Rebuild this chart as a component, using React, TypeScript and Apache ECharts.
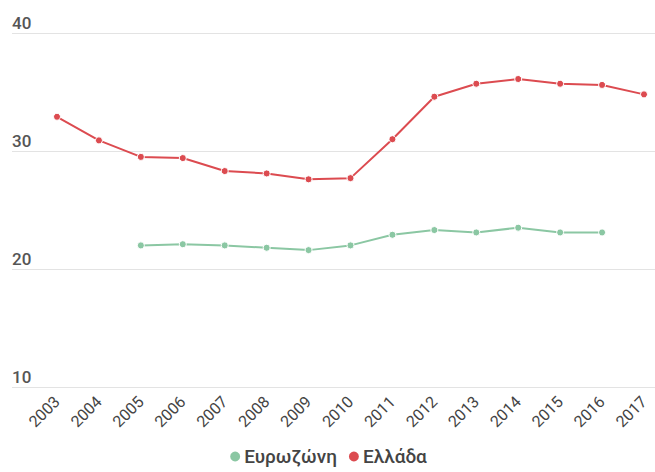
import React, { useEffect, useRef } from "react";
import * as echarts from "echarts";

const years = [
  "2003", "2004", "2005", "2006", "2007", "2008", "2009", "2010",
  "2011", "2012", "2013", "2014", "2015", "2016", "2017",
];

const eurozone: (number | null)[] = [
  null, null, 22.0, 22.1, 22.0, 21.8, 21.6, 22.0,
  22.9, 23.3, 23.1, 23.5, 23.1, 23.1, null,
];

const greece = [
  32.9, 30.9, 29.5, 29.4, 28.3, 28.1, 27.6, 27.7,
  31.0, 34.6, 35.7, 36.1, 35.7, 35.6, 34.8,
];

const yTicks = { min: 10, max: 40, interval: 10 };

const GREEN = "#8bc7a3";
const RED = "#dc4b50";

export default function App() {
  const ref = useRef<HTMLDivElement>(null);

  useEffect(() => {
    if (!ref.current) return;
    const chart = echarts.init(ref.current, null, { renderer: "svg" });
    const font = "Roboto, 'Noto Sans', sans-serif";
    chart.setOption({
      animation: false,
      textStyle: { fontFamily: font },
      legend: {
        bottom: 1,
        left: "center",
        icon: "circle",
        itemWidth: 12,
        itemHeight: 12,
        itemGap: 10,
        textStyle: { fontSize: 19, fontWeight: 500, color: "#444", fontFamily: font, padding: [0, 0, 0, -2] },
        data: ["Ευρωζώνη", "Ελλάδα"],
      },
      grid: [
        // wide grid carrying the horizontal guide lines and value labels
        { left: 12, right: 0, top: 33, bottom: 85, containLabel: false },
        // inner grid where the yearly points sit
        { left: 57, right: 11, top: 33, bottom: 85, containLabel: false },
      ],
      xAxis: [
        {
          gridIndex: 0,
          type: "category",
          data: years,
          show: false,
        },
        {
          gridIndex: 1,
          type: "category",
          data: years,
          boundaryGap: false,
          axisLine: { show: false },
          axisTick: { show: false },
          axisLabel: {
            rotate: 45,
            margin: 12,
            fontSize: 16,
            color: "#444",
            fontFamily: font,
          },
        },
      ],
      yAxis: [
        {
          gridIndex: 0,
          type: "value",
          ...yTicks,
          axisLine: { show: false },
          axisTick: { show: false },
          splitLine: { show: true, lineStyle: { color: "#e3e3e3", width: 1 } },
          axisLabel: {
            inside: true,
            margin: 0,
            align: "left",
            verticalAlign: "bottom",
            padding: [0, 0, 2, 0],
            fontSize: 17,
            fontWeight: 500,
            color: "#555",
            fontFamily: font,
          },
        },
        {
          gridIndex: 1,
          type: "value",
          ...yTicks,
          show: false,
          splitLine: { show: false },
        },
      ],
      series: [
        {
          name: "Ευρωζώνη",
          type: "line",
          xAxisIndex: 1,
          yAxisIndex: 1,
          data: eurozone,
          color: GREEN,
          symbol: "circle",
          symbolSize: 7,
          lineStyle: { width: 2, color: GREEN },
          itemStyle: { color: GREEN, borderColor: "#fff", borderWidth: 1 },
        },
        {
          name: "Ελλάδα",
          type: "line",
          xAxisIndex: 1,
          yAxisIndex: 1,
          data: greece,
          color: RED,
          symbol: "circle",
          symbolSize: 7,
          lineStyle: { width: 2, color: RED },
          itemStyle: { color: RED, borderColor: "#fff", borderWidth: 1 },
        },
      ],
    });
    return () => chart.dispose();
  }, []);

  return (
    <div
      ref={ref}
      style={{ width: 655, height: 472, position: "absolute", left: 0, top: 0 }}
    />
  );
}
